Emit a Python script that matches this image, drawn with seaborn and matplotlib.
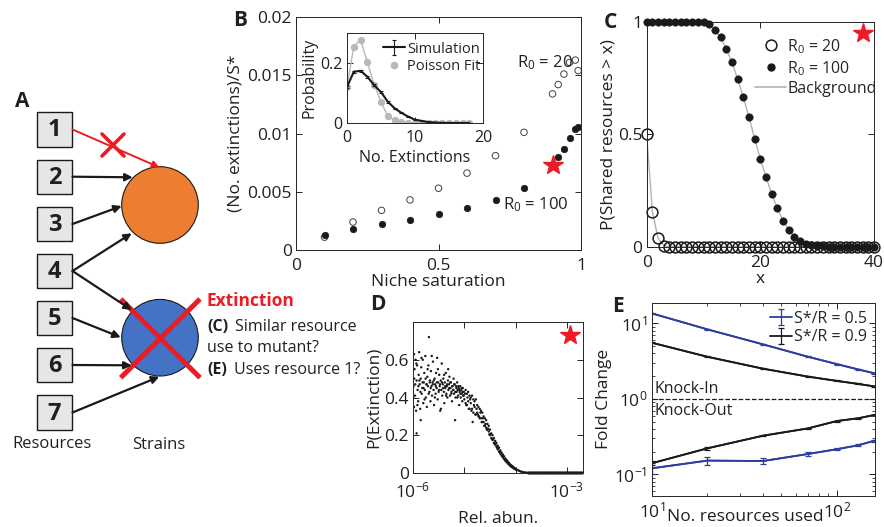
import matplotlib
matplotlib.use("Agg")
import matplotlib.pyplot as plt
import numpy as np
import seaborn as sns
from matplotlib.patches import Circle, Rectangle
from matplotlib.lines import Line2D

# ---------------- data ----------------
# B: extinctions per strain vs niche saturation
sat = [0.1, 0.2, 0.3, 0.4, 0.5, 0.6, 0.7, 0.8, 0.9, 0.92, 0.94, 0.96, 0.98, 0.99]
ext_r20 = [0.0011, 0.0024, 0.0034, 0.0043, 0.0053, 0.0066, 0.0081, 0.0101,
           0.0134, 0.0142, 0.0151, 0.0161, 0.0163, 0.0154]
ext_r100 = [0.0013, 0.0018, 0.0022, 0.0026, 0.0031, 0.0036, 0.0043, 0.0053,
            0.0073, 0.0080, 0.0087, 0.0096, 0.0104, 0.0106]
star_b = (0.9, 0.0073)

# B inset: distribution of number of extinctions
n_ext = [0, 1, 2, 3, 4, 5, 6, 7, 8, 9, 10, 11, 12, 13, 14, 15, 16, 17, 18]
sim_prob = [0.12, 0.171, 0.174, 0.154, 0.126, 0.103, 0.071, 0.049, 0.034, 0.021,
            0.011, 0.007, 0.003, 0.0015, 0.0005, 0.0, 0.0, 0.0, 0.0]
sim_err = [0.003, 0.004, 0.004, 0.004, 0.003, 0.003, 0.003, 0.002, 0.002, 0.002,
           0.001, 0.001, 0.001, 0.0, 0.0, 0.0, 0.0, 0.0, 0.0]
poisson_prob = [0.12, 0.255, 0.278, 0.202, 0.128, 0.07, 0.023, 0.009, 0.002, 0.0005,
                0.0, 0.0, 0.0, 0.0, 0.0, 0.0, 0.0, 0.0, 0.0]

# C: P(shared resources > x)
shared_x = list(range(41))
p_r20 = [0.5, 0.155, 0.037, 0.005] + [0.0] * 37
p_r100 = [1.0, 1.0, 1.0, 1.0, 1.0, 1.0, 1.0, 1.0, 1.0, 1.0,
          0.997, 0.99, 0.965, 0.93, 0.88, 0.82, 0.745, 0.665, 0.575, 0.48,
          0.39, 0.31, 0.235, 0.17, 0.115, 0.075, 0.045, 0.025, 0.013, 0.006,
          0.003, 0.001, 0.0, 0.0, 0.0, 0.0, 0.0, 0.0, 0.0, 0.0, 0.0]
star_c = (38.1, 0.948)

# D: P(extinction) vs relative abundance (log10 abundance)
d_logabun = [
    -5.99, -5.98, -5.98, -5.97, -5.96, -5.95, -5.94, -5.93, -5.93, -5.92, -5.91, -5.90,
    -5.89, -5.88, -5.87, -5.86, -5.85, -5.85, -5.84, -5.83, -5.82, -5.81, -5.80, -5.79,
    -5.78, -5.77, -5.76, -5.75, -5.74, -5.73, -5.72, -5.71, -5.70, -5.69, -5.68, -5.67,
    -5.66, -5.65, -5.64, -5.63, -5.62, -5.61, -5.60, -5.59, -5.58, -5.57, -5.56, -5.55,
    -5.54, -5.53, -5.52, -5.51, -5.50, -5.49, -5.48, -5.47, -5.46, -5.45, -5.44, -5.43,
    -5.42, -5.41, -5.40, -5.39, -5.38, -5.37, -5.36, -5.35, -5.34, -5.33, -5.32, -5.31,
    -5.30, -5.29, -5.28, -5.27, -5.26, -5.25, -5.24, -5.23, -5.22, -5.21, -5.20, -5.19,
    -5.18, -5.17, -5.16, -5.15, -5.14, -5.13, -5.12, -5.11, -5.10, -5.09, -5.08, -5.07,
    -5.06, -5.05, -5.04, -5.03, -5.02, -5.01, -5.00,
    -5.995, -5.975, -5.955, -5.935, -5.915, -5.895, -5.875, -5.855, -5.835, -5.815,
    -5.795, -5.775, -5.755, -5.735, -5.715, -5.695, -5.675, -5.655, -5.635, -5.615,
    -5.595, -5.575, -5.555, -5.535, -5.515, -5.495, -5.475, -5.455, -5.435, -5.415,
    -5.395, -5.375, -5.355, -5.335, -5.315, -5.295, -5.275, -5.255, -5.235, -5.215,
    -5.195, -5.175, -5.155, -5.135, -5.115, -5.095, -5.075, -5.055, -5.035, -5.015,
    -4.975, -4.975, -4.95, -4.95, -4.925, -4.925, -4.90, -4.90, -4.875, -4.875,
    -4.85, -4.85, -4.825, -4.825, -4.80, -4.80, -4.775, -4.775, -4.75, -4.75,
    -4.725, -4.725, -4.70, -4.70, -4.675, -4.675, -4.65, -4.65, -4.625, -4.625,
    -4.60, -4.60, -4.575, -4.575, -4.55, -4.55, -4.525, -4.525, -4.50, -4.50,
    -4.475, -4.475, -4.45, -4.45, -4.425, -4.425, -4.40, -4.40, -4.375, -4.375,
    -4.35, -4.35, -4.325, -4.325, -4.30, -4.30, -4.275, -4.275, -4.25, -4.25,
    -4.225, -4.225, -4.20, -4.20, -4.175, -4.175, -4.15, -4.15, -4.125, -4.125,
    -4.10, -4.10, -4.075, -4.075, -4.05, -4.05, -4.025, -4.025, -4.00, -4.00,
    -4.9875, -4.9625, -4.9375, -4.9125, -4.8875, -4.8625, -4.8375, -4.8125, -4.7875, -4.7625,
    -4.7375, -4.7125, -4.6875, -4.6625, -4.6375, -4.6125, -4.5875, -4.5625, -4.5375, -4.5125,
    -4.4875, -4.4625, -4.4375, -4.4125, -4.3875, -4.3625, -4.3375, -4.3125, -4.2875, -4.2625,
    -4.2375, -4.2125, -4.1875, -4.1625, -4.1375, -4.1125, -4.0875, -4.0625, -4.0375, -4.0125,
    -3.975, -3.95, -3.925, -3.90, -3.875, -3.85, -3.825, -3.80, -3.775,
]
d_pext = [
    0.46, 0.63, 0.35, 0.55, 0.41, 0.60, 0.33, 0.21, 0.49, 0.57, 0.44, 0.38,
    0.52, 0.64, 0.47, 0.34, 0.28, 0.50, 0.56, 0.42, 0.45, 0.60, 0.37, 0.48,
    0.53, 0.44, 0.62, 0.40, 0.47, 0.35, 0.51, 0.46, 0.57, 0.72, 0.43, 0.49,
    0.38, 0.54, 0.46, 0.41, 0.48, 0.59, 0.44, 0.36, 0.50, 0.47, 0.42, 0.53,
    0.45, 0.61, 0.39, 0.48, 0.43, 0.52, 0.46, 0.33, 0.49, 0.44, 0.58, 0.41,
    0.47, 0.50, 0.43, 0.37, 0.48, 0.45, 0.53, 0.42, 0.46, 0.40, 0.49, 0.44,
    0.47, 0.51, 0.41, 0.45, 0.48, 0.43, 0.38, 0.46, 0.44, 0.50, 0.42, 0.47,
    0.28, 0.40, 0.46, 0.43, 0.48, 0.44, 0.41, 0.45, 0.36, 0.43, 0.46, 0.40,
    0.44, 0.42, 0.38, 0.45, 0.41, 0.43, 0.39,
    0.40, 0.50, 0.47, 0.58, 0.36, 0.46, 0.49, 0.43, 0.61, 0.48,
    0.45, 0.39, 0.50, 0.47, 0.55, 0.42, 0.48, 0.45, 0.62, 0.47,
    0.49, 0.40, 0.46, 0.48, 0.55, 0.44, 0.47, 0.34, 0.48, 0.45,
    0.52, 0.46, 0.41, 0.47, 0.55, 0.45, 0.48, 0.42, 0.46, 0.44,
    0.47, 0.43, 0.45, 0.40, 0.46, 0.44, 0.42, 0.45, 0.43, 0.41,
    0.44, 0.37, 0.42, 0.36, 0.43, 0.38, 0.41, 0.34, 0.40, 0.37,
    0.41, 0.34, 0.39, 0.32, 0.38, 0.35, 0.39, 0.31, 0.36, 0.32,
    0.35, 0.30, 0.34, 0.29, 0.33, 0.29, 0.32, 0.27, 0.30, 0.27,
    0.29, 0.25, 0.28, 0.24, 0.26, 0.23, 0.25, 0.22, 0.23, 0.20,
    0.21, 0.185, 0.20, 0.175, 0.185, 0.16, 0.17, 0.15, 0.16, 0.14,
    0.145, 0.125, 0.135, 0.113, 0.12, 0.102, 0.108, 0.092, 0.098, 0.082,
    0.088, 0.073, 0.077, 0.064, 0.068, 0.057, 0.06, 0.05, 0.052, 0.043,
    0.044, 0.036, 0.038, 0.032, 0.033, 0.027, 0.027, 0.022, 0.022, 0.018,
    0.42, 0.36, 0.40, 0.34, 0.39, 0.33, 0.27, 0.36, 0.31, 0.34,
    0.31, 0.30, 0.32, 0.27, 0.29, 0.25, 0.26, 0.23, 0.235, 0.205,
    0.205, 0.18, 0.18, 0.155, 0.155, 0.134, 0.13, 0.112, 0.108, 0.092,
    0.088, 0.073, 0.069, 0.058, 0.052, 0.043, 0.039, 0.031, 0.027, 0.022,
    0.017, 0.014, 0.011, 0.008, 0.006, 0.004, 0.003, 0.002, 0.001,
]
# abundances where no extinction was ever seen (P = 0)
d_zero_logabun = [
    -3.75, -3.725, -3.70, -3.675, -3.65, -3.625, -3.60, -3.575, -3.55, -3.525,
    -3.50, -3.475, -3.45, -3.425, -3.40, -3.375, -3.35, -3.325, -3.30, -3.275,
    -3.25, -3.225, -3.20, -3.175, -3.15, -3.125, -3.10, -3.075, -3.05, -3.025,
    -3.00, -2.975, -2.95, -2.925, -2.90, -2.875, -2.85, -2.825, -2.80, -2.775,
    -2.75, -2.725, -2.70,
]
star_d = (1.13e-3, 0.733)

# E: fold change vs number of resources used
res_used = [10, 20, 40, 70, 100, 130, 160]
ki_05 = [13.6, 8.33, 5.27, 3.61, 2.89, 2.46, 2.18]
ki_09 = [5.55, 3.61, 2.51, 1.97, 1.73, 1.58, 1.46]
ko_05 = [0.120, 0.152, 0.150, 0.186, 0.215, 0.242, 0.279]
ko_09 = [0.140, 0.221, 0.325, 0.406, 0.508, 0.552, 0.611]
ki_05_err = [0.3, 0.15, 0.1, 0.07, 0.05, 0.05, 0.04]
ki_09_err = [0.12, 0.07, 0.05, 0.04, 0.03, 0.03, 0.03]
ko_05_err = [0.02, 0.018, 0.014, 0.01, 0.008, 0.008, 0.01]
ko_09_err = [0.008, 0.008, 0.006, 0.006, 0.008, 0.006, 0.006]

# ---------------- style ----------------
sns.set_theme(style="ticks")
plt.rcParams["font.family"] = ["Open Sans", "DejaVu Sans"]
plt.rcParams["mathtext.fontset"] = "custom"
plt.rcParams["mathtext.rm"] = "Open Sans"
plt.rcParams["mathtext.it"] = "Open Sans:italic"
plt.rcParams["axes.linewidth"] = 0.7
plt.rcParams["axes.edgecolor"] = "0.15"

W, H = 884, 527
RED = "#ed1c24"
BLUE = "#2b3fa0"
TXT = "#231f20"


def px_box(l, t, r, b):
    return [l / W, 1 - b / H, (r - l) / W, (b - t) / H]


def matlab_ticks(ax, size=12.5, xpad=6):
    ax.tick_params(direction="in", top=True, right=True, length=4, width=0.7,
                   labelsize=size, labelcolor=TXT, pad=3)
    ax.tick_params(axis="x", pad=xpad)
    ax.tick_params(which="minor", direction="in", top=True, right=True, length=2, width=0.6)


fig = plt.figure(figsize=(W / 100, H / 100), dpi=100)

# ---------------- A: schematic ----------------
axA = fig.add_axes([0, 0, 1, 1])
axA.set_xlim(0, W)
axA.set_ylim(H, 0)
axA.axis("off")

box_y = [129.5, 176.7, 224, 271, 318, 365, 412.5]
for i, cy in enumerate(box_y):
    axA.add_patch(Rectangle((36.7, cy - 17.2), 35.6, 34.4, fc="#e6e6e6", ec="k", lw=1))
    axA.text(54.5, cy + 1, str(i + 1), ha="center", va="center", fontsize=17,
             fontweight="bold", color=TXT)

axA.add_patch(Circle((160, 205), 38.3, fc="#ed7d31", ec="k", lw=0.8))
axA.add_patch(Circle((160, 337.7), 38.3, fc="#4472c4", ec="k", lw=0.8))

links = [((72.5, 176.7), (132.7, 177.3)), ((72.5, 224), (121.7, 206)),
         ((72.5, 271), (131.7, 233.3)), ((72.5, 271), (131.7, 310)),
         ((72.5, 318), (120.7, 337.3)), ((72.5, 365), (131.7, 365.3)),
         ((72.5, 412.5), (159.3, 376.7))]
for start, end in links:
    axA.annotate("", xy=end, xytext=start,
                 arrowprops=dict(arrowstyle="-|>", color="k", lw=1.6,
                                 mutation_scale=11, shrinkA=0, shrinkB=0))
axA.annotate("", xy=(159.3, 167.3), xytext=(72.5, 129.5),
             arrowprops=dict(arrowstyle="-|>", color=RED, lw=1.4,
                             mutation_scale=10, shrinkA=0, shrinkB=0))
axA.plot([102, 124], [134, 156], color=RED, lw=2.6)
axA.plot([102, 124], [156, 134], color=RED, lw=2.6)
axA.plot([120.7, 200], [299, 377.7], color=RED, lw=3.6, solid_capstyle="butt")
axA.plot([200, 120.7], [299, 377.7], color=RED, lw=3.6, solid_capstyle="butt")

axA.text(206, 301, "Extinction", color=RED, fontsize=12.5, fontweight="bold", va="center")
axA.text(207, 327, "(C)", fontsize=11.5, fontweight="bold", va="center", color=TXT)
axA.text(235, 327, "Similar resource", fontsize=11.5, va="center", color=TXT)
axA.text(207, 348, "use to mutant?", fontsize=11.5, va="center", color=TXT)
axA.text(207, 370, "(E)", fontsize=11.5, fontweight="bold", va="center", color=TXT)
axA.text(234, 370, "Uses resource 1?", fontsize=11.5, va="center", color=TXT)
axA.text(51.7, 444, "Resources", fontsize=12, ha="center", va="center", color=TXT)
axA.text(158.3, 445, "Strains", fontsize=12, ha="center", va="center", color=TXT)

for letter, (lx, ly) in {"A": (21.7, 101.7), "B": (240, 20), "C": (610, 22),
                         "D": (378, 305), "E": (618, 307)}.items():
    axA.text(lx, ly, letter, fontsize=15, fontweight="bold", ha="center", va="center", color=TXT)

# ---------------- B ----------------
axB = fig.add_axes(px_box(296, 17, 581, 250))
sns.scatterplot(x=sat, y=ext_r20, ax=axB, s=22, facecolor="none", edgecolor="0.25", linewidth=0.7)
sns.scatterplot(x=sat, y=ext_r100, ax=axB, s=22, color="k", edgecolor="k", linewidth=0.5)
axB.plot(*star_b, marker="*", color=RED, ms=15, mec=RED)
axB.set_xlim(0, 1)
axB.set_ylim(0, 0.02)
axB.set_xticks([0, 0.5, 1])
axB.set_xticklabels(["0", "0.5", "1"])
axB.set_yticks([0, 0.005, 0.01, 0.015, 0.02])
axB.set_yticklabels(["0", "0.005", "0.01", "0.015", "0.02"])
axB.set_xlabel("Niche saturation", fontsize=12.5, color=TXT, labelpad=0)
axB.set_ylabel("(No. extinctions)/S*", fontsize=12.5, color=TXT, labelpad=3)
axB.text(0.775, 0.01605, r"R$_0$ = 20", fontsize=12, va="center", color=TXT)
axB.text(0.728, 0.00387, r"R$_0$ = 100", fontsize=12, va="center", color=TXT)
matlab_ticks(axB)

# B inset
axI = fig.add_axes(px_box(347, 33, 483, 123))
sns.lineplot(x=n_ext, y=poisson_prob, ax=axI, color="0.72", lw=1.0, marker="o",
             ms=4.5, mec="0.72", mfc="0.72")
eb = axI.errorbar(n_ext, sim_prob, yerr=sim_err, color="k", lw=1.5, capsize=1.5,
                  elinewidth=0.8, capthick=0.8)
axI.set_xlim(0, 20)
axI.set_ylim(0, 0.3)
axI.set_xticks([0, 10, 20])
axI.set_yticks([0, 0.2])
axI.set_yticklabels(["0", "0.2"])
axI.set_xlabel("No. Extinctions", fontsize=11.5, color=TXT, labelpad=3)
axI.set_ylabel("Probability", fontsize=11.5, color=TXT, labelpad=2)
matlab_ticks(axI, size=11.5, xpad=5)
axI.legend([eb, Line2D([], [], ls="", marker="o", ms=4.5, color="0.72")],
           ["Simulation", "Poisson Fit"], loc="upper left", bbox_to_anchor=(0.22, 0.97),
           frameon=False, fontsize=10.5, handlelength=1.5, handletextpad=0.15,
           borderaxespad=0, labelspacing=0.15)

# ---------------- C ----------------
axC = fig.add_axes(px_box(646.7, 21.7, 874, 246.7))
sns.lineplot(x=shared_x, y=p_r100, ax=axC, color="0.7", lw=1.0)
sns.lineplot(x=shared_x, y=p_r20, ax=axC, color="0.7", lw=1.0)
axC.plot(shared_x, p_r20, ls="", marker="o", ms=7.8, mfc="none", mec="k", mew=1.1, clip_on=False)
sns.scatterplot(x=shared_x, y=p_r100, ax=axC, s=28, color="k", edgecolor="k",
                linewidth=0.5, clip_on=False, zorder=4)
axC.plot(*star_c, marker="*", color=RED, ms=15, mec=RED)
axC.set_xlim(0, 40)
axC.set_ylim(0, 1)
axC.set_xticks([0, 20, 40])
axC.set_yticks([0, 0.5, 1])
axC.set_yticklabels(["0", "0.5", "1"])
axC.set_xlabel("x", fontsize=12.5, color=TXT, labelpad=0)
axC.set_ylabel("P(Shared resources > x)", fontsize=12.5, color=TXT, labelpad=1)
matlab_ticks(axC)
c_handles = [Line2D([], [], ls="", marker="o", ms=7.8, mfc="none", mec="k", mew=1.1),
             Line2D([], [], ls="", marker="o", ms=5, color="k"),
             Line2D([], [], color="0.7", lw=1.2)]
axC.legend(c_handles, [r"R$_0$ = 20", r"R$_0$ = 100", "Background"], loc="upper left",
           bbox_to_anchor=(0.45, 0.96), frameon=False, fontsize=11.5, handlelength=1.9,
           handletextpad=0.1, borderaxespad=0, labelspacing=0.2)

# ---------------- D ----------------
axD = fig.add_axes(px_box(413, 322, 583, 473))
sns.scatterplot(x=10 ** np.array(d_logabun), y=d_pext, ax=axD, s=3, color="k",
                edgecolor="none")
sns.scatterplot(x=10 ** np.array(d_zero_logabun), y=np.zeros(len(d_zero_logabun)),
                ax=axD, s=5, color="k", edgecolor="none", clip_on=False)
axD.plot(*star_d, marker="*", color=RED, ms=15, mec=RED)
axD.set_xscale("log")
axD.set_xlim(1e-6, 2.05e-3)
axD.set_ylim(0, 0.8)
axD.set_xticks([1e-6, 1e-5, 1e-4, 1e-3])
axD.set_xticklabels([r"10$^{-6}$", "", "", r"10$^{-3}$"])
axD.xaxis.set_minor_locator(matplotlib.ticker.NullLocator())
axD.set_yticks([0, 0.2, 0.4, 0.6])
axD.set_yticklabels(["0", "0.2", "0.4", "0.6"])
axD.set_xlabel("Rel. abun.", fontsize=12.5, color=TXT, labelpad=7)
axD.set_ylabel("P(Extinction)", fontsize=12.5, color=TXT, labelpad=2)
matlab_ticks(axD)

# ---------------- E ----------------
axE = fig.add_axes(px_box(651.7, 302.7, 875, 496))
sns.lineplot(x=res_used, y=ki_05, ax=axE, color=BLUE, lw=1.3)
sns.lineplot(x=res_used, y=ko_05, ax=axE, color=BLUE, lw=1.3)
sns.lineplot(x=res_used, y=ki_09, ax=axE, color="k", lw=1.3)
sns.lineplot(x=res_used, y=ko_09, ax=axE, color="k", lw=1.3)
eb05 = axE.errorbar(res_used, ki_05, yerr=ki_05_err, color=BLUE, lw=1.3, capsize=2,
                    elinewidth=0.9, capthick=0.9)
axE.errorbar(res_used, ko_05, yerr=ko_05_err, color=BLUE, lw=1.3, capsize=2,
             elinewidth=0.9, capthick=0.9)
eb09 = axE.errorbar(res_used, ki_09, yerr=ki_09_err, color="k", lw=1.3, capsize=2,
                    elinewidth=0.9, capthick=0.9)
axE.errorbar(res_used, ko_09, yerr=ko_09_err, color="k", lw=1.3, capsize=2,
             elinewidth=0.9, capthick=0.9)
axE.axhline(1, color="k", ls="--", lw=0.9)
axE.set_xscale("log")
axE.set_yscale("log")
axE.set_xlim(10, 161)
axE.set_ylim(0.0516, 18.8)
axE.set_xticks([10, 100])
axE.set_yticks([0.1, 1, 10])
axE.text(10.4, 1.34, "Knock-In", fontsize=11.5, va="center", color=TXT)
axE.text(10.4, 0.70, "Knock-Out", fontsize=11.5, va="center", color=TXT)
axE.set_ylabel("Fold Change", fontsize=12.5, color=TXT, labelpad=2)
axE.set_xlabel("No. resources used", fontsize=12.5, color=TXT)
axE.xaxis.set_label_coords(0.42, -0.065)
matlab_ticks(axE, xpad=4)
axE.legend([eb05, eb09], ["S*/R = 0.5", "S*/R = 0.9"], loc="upper left",
           bbox_to_anchor=(0.5, 0.99), frameon=False, fontsize=11.5, handlelength=1.4,
           handletextpad=0.1, borderaxespad=0, labelspacing=0.15)

fig.savefig("out.png", dpi=100)
